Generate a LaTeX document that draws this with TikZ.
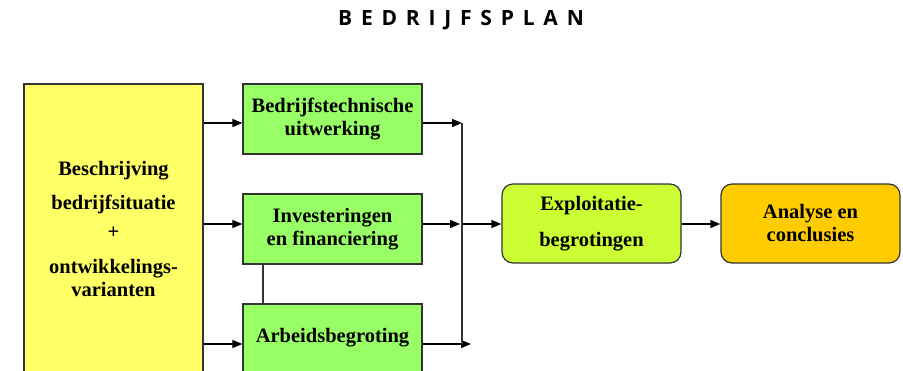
\documentclass[tikz,border=0pt]{standalone}
\usepackage{fontspec}
\setmainfont{Liberation Serif}
\newfontfamily\titlefont{Open Sans}
\usetikzlibrary{arrows.meta}
\definecolor{cyel}{HTML}{FFFF66}
\definecolor{cgreen}{HTML}{99FF66}
\definecolor{clime}{HTML}{CCFF33}
\definecolor{corange}{HTML}{FFCC00}
\definecolor{cborder}{HTML}{333333}
\tikzset{
  box/.style={draw=cborder, line width=1.2pt, inner sep=0pt, align=center,
    font=\fontsize{20.5}{23}\selectfont\bfseries},
  gbox/.style={box, fill=cgreen, minimum width=179pt},
  rbox/.style={box, rounded corners=11pt, minimum width=179pt, minimum height=79pt},
  arr/.style={line width=1.4pt, -{Triangle[length=10pt,width=8pt]}},
  ln/.style={line width=1.2pt, draw=cborder},
}
\newcommand{\gap}{\hspace{8.8pt}}
\begin{document}
\begin{tikzpicture}[x=1pt,y=-1pt]
\useasboundingbox (0,0) rectangle (903,370);
\clip (0,0) rectangle (903,370);
\node[font=\titlefont\bfseries\fontsize{21}{26}\selectfont] (title) at (461,20)
  {B\gap E\gap D\gap R\gap I\gap J\gap F\gap S\gap P\gap L\gap A\gap N};
% yellow box
\node[box, fill=cyel, minimum width=179pt, minimum height=290pt] (yel) at (113.5,229)
  {Beschrijving\\[11pt] bedrijfsituatie\\[6pt] +\\[12pt] ontwikkelings-\\ varianten};
% green boxes
\node[gbox, minimum height=70pt] (bt) at (332.5,119) {Bedrijfstechnische\\ uitwerking};
\node[gbox, minimum height=70pt] (inv) at (332.5,229) {Investeringen\\ en financiering};
\node[gbox, minimum height=68pt] (ar) at (332.5,338) {Arbeidsbegroting};
% rounded boxes
\node[rbox, fill=clime] (ex) at (591.5,223.5) {Exploitatie-\\[13pt] begrotingen};
\node[rbox, fill=corange] (an) at (810.5,223.5) {Analyse en\\ conclusies};
% coordinates
\coordinate (y1) at (203,123);
\coordinate (y2) at (203,224);
\coordinate (y3) at (203,344);
\coordinate (j1) at (462,123);
\coordinate (j2) at (460,224);
\coordinate (j3) at (462,344);
\coordinate (t3) at (471,344);
\coordinate (jb) at (462,224);
% arrows left
\draw[arr] (yel.east |- y1) -- (bt.west |- y1);
\draw[arr] (yel.east |- y2) -- (inv.west |- y2);
\draw[arr] (yel.east |- y3) -- (ar.west |- y3);
% right side
\draw[arr] (bt.east |- j1) -- (j1);
\draw[arr] (inv.east |- j2) -- (j2);
\draw[arr] (ar.east |- t3) -- (t3);
\draw[ln] (j1) -- (j3);
\draw[arr] (jb) -- (ex.west |- jb);
\draw[arr] (ex.east |- jb) -- (an.west |- jb);
% connector between green boxes
\coordinate (v) at (263,0);
\draw[ln] (inv.south -| v) -- (ar.north -| v);
\end{tikzpicture}
\end{document}
